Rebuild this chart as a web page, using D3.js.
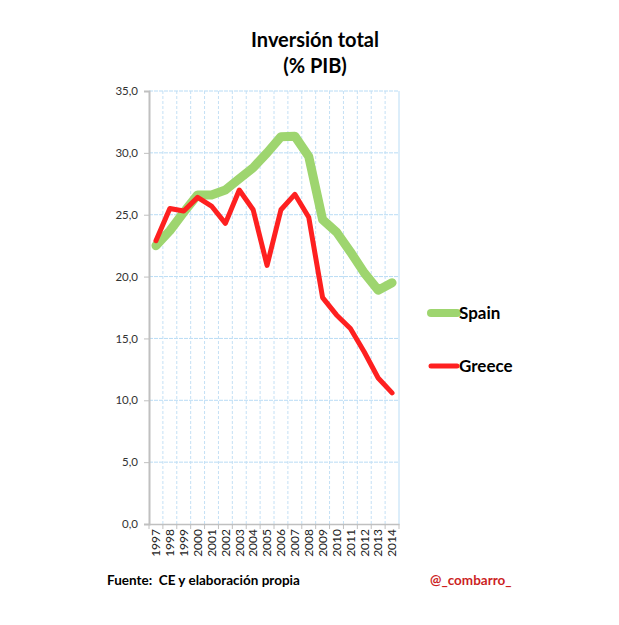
<!DOCTYPE html>
<html><head><meta charset="utf-8">
<script src="https://cdn.jsdelivr.net/npm/d3@7"></script>
<style>body{margin:0;background:#fff;} svg{display:block;}</style>
</head><body>
<svg id="c" width="619" height="625"></svg>
<script>
const years = ["1997","1998","1999","2000","2001","2002","2003","2004","2005","2006","2007","2008","2009","2010","2011","2012","2013","2014"];
const spain = [22.5,23.7,25.2,26.6,26.6,27.0,27.9,28.8,30.0,31.3,31.35,29.7,24.6,23.6,22.0,20.3,18.9,19.5];
const greece = [22.9,25.5,25.3,26.4,25.7,24.3,27.0,25.4,20.9,25.4,26.65,24.8,18.3,16.9,15.8,13.9,11.8,10.6];
const yTicks = [0,5,10,15,20,25,30,35];

const svg = d3.select("#c");
const font = "Lato, 'Open Sans', sans-serif";
const L = 149, R = 399, T = 91, B = 524;
const x = d3.scaleBand().domain(years).range([L, R]);
const y = d3.scaleLinear().domain([0, 35]).range([B, T]);

// gridlines
const g = svg.append("g");
g.selectAll(".hg").data(yTicks.filter(d => d > 0)).enter().append("line")
  .attr("x1", L).attr("x2", R).attr("y1", d => y(d)).attr("y2", d => y(d))
  .attr("stroke", "#b9dcf5").attr("stroke-width", 1).attr("stroke-dasharray", "4,1");
const bounds = years.map(d => x(d) + x.bandwidth()).slice(0, -1);
g.selectAll(".vg").data(bounds).enter().append("line")
  .attr("x1", d => d).attr("x2", d => d).attr("y1", T).attr("y2", B)
  .attr("stroke", "#c4e0f5").attr("stroke-width", 1).attr("stroke-dasharray", "3,2");
g.append("line").attr("x1", R).attr("x2", R).attr("y1", T).attr("y2", B)
  .attr("stroke", "#b9dcf5").attr("stroke-width", 1);

// y axis
const ya = svg.append("g").attr("transform", `translate(${L},0)`)
  .call(d3.axisLeft(y).tickValues(yTicks).tickSize(5).tickPadding(6)
    .tickFormat(d => d3.format(".1f")(d).replace(".", ",")));
ya.select(".domain").attr("stroke", "#c0c0c0").attr("stroke-width", 2);
ya.selectAll(".tick line").attr("stroke", "#c0c0c0");
ya.selectAll("text").attr("font-family", font).attr("font-size", 11.5).attr("fill", "#333");

// x axis
const xa = svg.append("g").attr("transform", `translate(0,${B})`)
  .call(d3.axisBottom(x).tickSize(0).tickPadding(0));
xa.select(".domain").attr("stroke", "#c0c0c0").attr("stroke-width", 1.5);
xa.selectAll(".tick text").attr("font-family", font).attr("font-size", 12).attr("fill", "#222")
  .attr("transform", "rotate(-90)").attr("text-anchor", "end").attr("dx", "-5").attr("dy", "0.36em").attr("y", 0).attr("x", 0);
svg.append("g").selectAll("line").data(years.map(d => x(d)).concat([R])).enter().append("line")
  .attr("x1", d => d).attr("x2", d => d).attr("y1", B).attr("y2", B + 5)
  .attr("stroke", "#c0c0c0");

// lines
const line = d3.line().x((d, i) => x(years[i]) + x.bandwidth() / 2).y(d => y(d));
svg.append("path").datum(spain).attr("d", line).attr("fill", "none")
  .attr("stroke", "#9ed56f").attr("stroke-width", 9).attr("stroke-linejoin", "round").attr("stroke-linecap", "round");
svg.append("path").datum(greece).attr("d", line).attr("fill", "none")
  .attr("stroke", "#fe2020").attr("stroke-width", 5).attr("stroke-linejoin", "round").attr("stroke-linecap", "round");

// title
svg.append("text").attr("x", 315).attr("y", 47).attr("text-anchor", "middle")
  .attr("font-family", font).attr("font-weight", "bold").attr("font-size", 20).text("Inversión total");
svg.append("text").attr("x", 315).attr("y", 73).attr("text-anchor", "middle")
  .attr("font-family", font).attr("font-weight", "bold").attr("font-size", 20).text("(% PIB)");

// legend
const leg = [{n:"Spain", c:"#9ed56f", w:8, y:313}, {n:"Greece", c:"#fe2020", w:5, y:366}];
leg.forEach(d => {
  svg.append("line").attr("x1", 431).attr("x2", 457).attr("y1", d.y).attr("y2", d.y)
    .attr("stroke", d.c).attr("stroke-width", d.w).attr("stroke-linecap", "round");
  svg.append("text").attr("x", 459).attr("y", d.y + 6).attr("font-family", font)
    .attr("font-weight", "bold").attr("font-size", 17).attr("fill", "#000").text(d.n);
});

// footer
svg.append("text").attr("x", 107).attr("y", 585).attr("font-family", font).attr("font-weight", "bold")
  .attr("font-size", 13.5).style("white-space", "pre").text("Fuente:  CE y elaboración propia");
svg.append("text").attr("x", 430).attr("y", 585).attr("font-family", font).attr("font-weight", "bold")
  .attr("font-size", 13.5).attr("fill", "#cc1f1f").text("@_combarro_");
</script>
</body></html>
